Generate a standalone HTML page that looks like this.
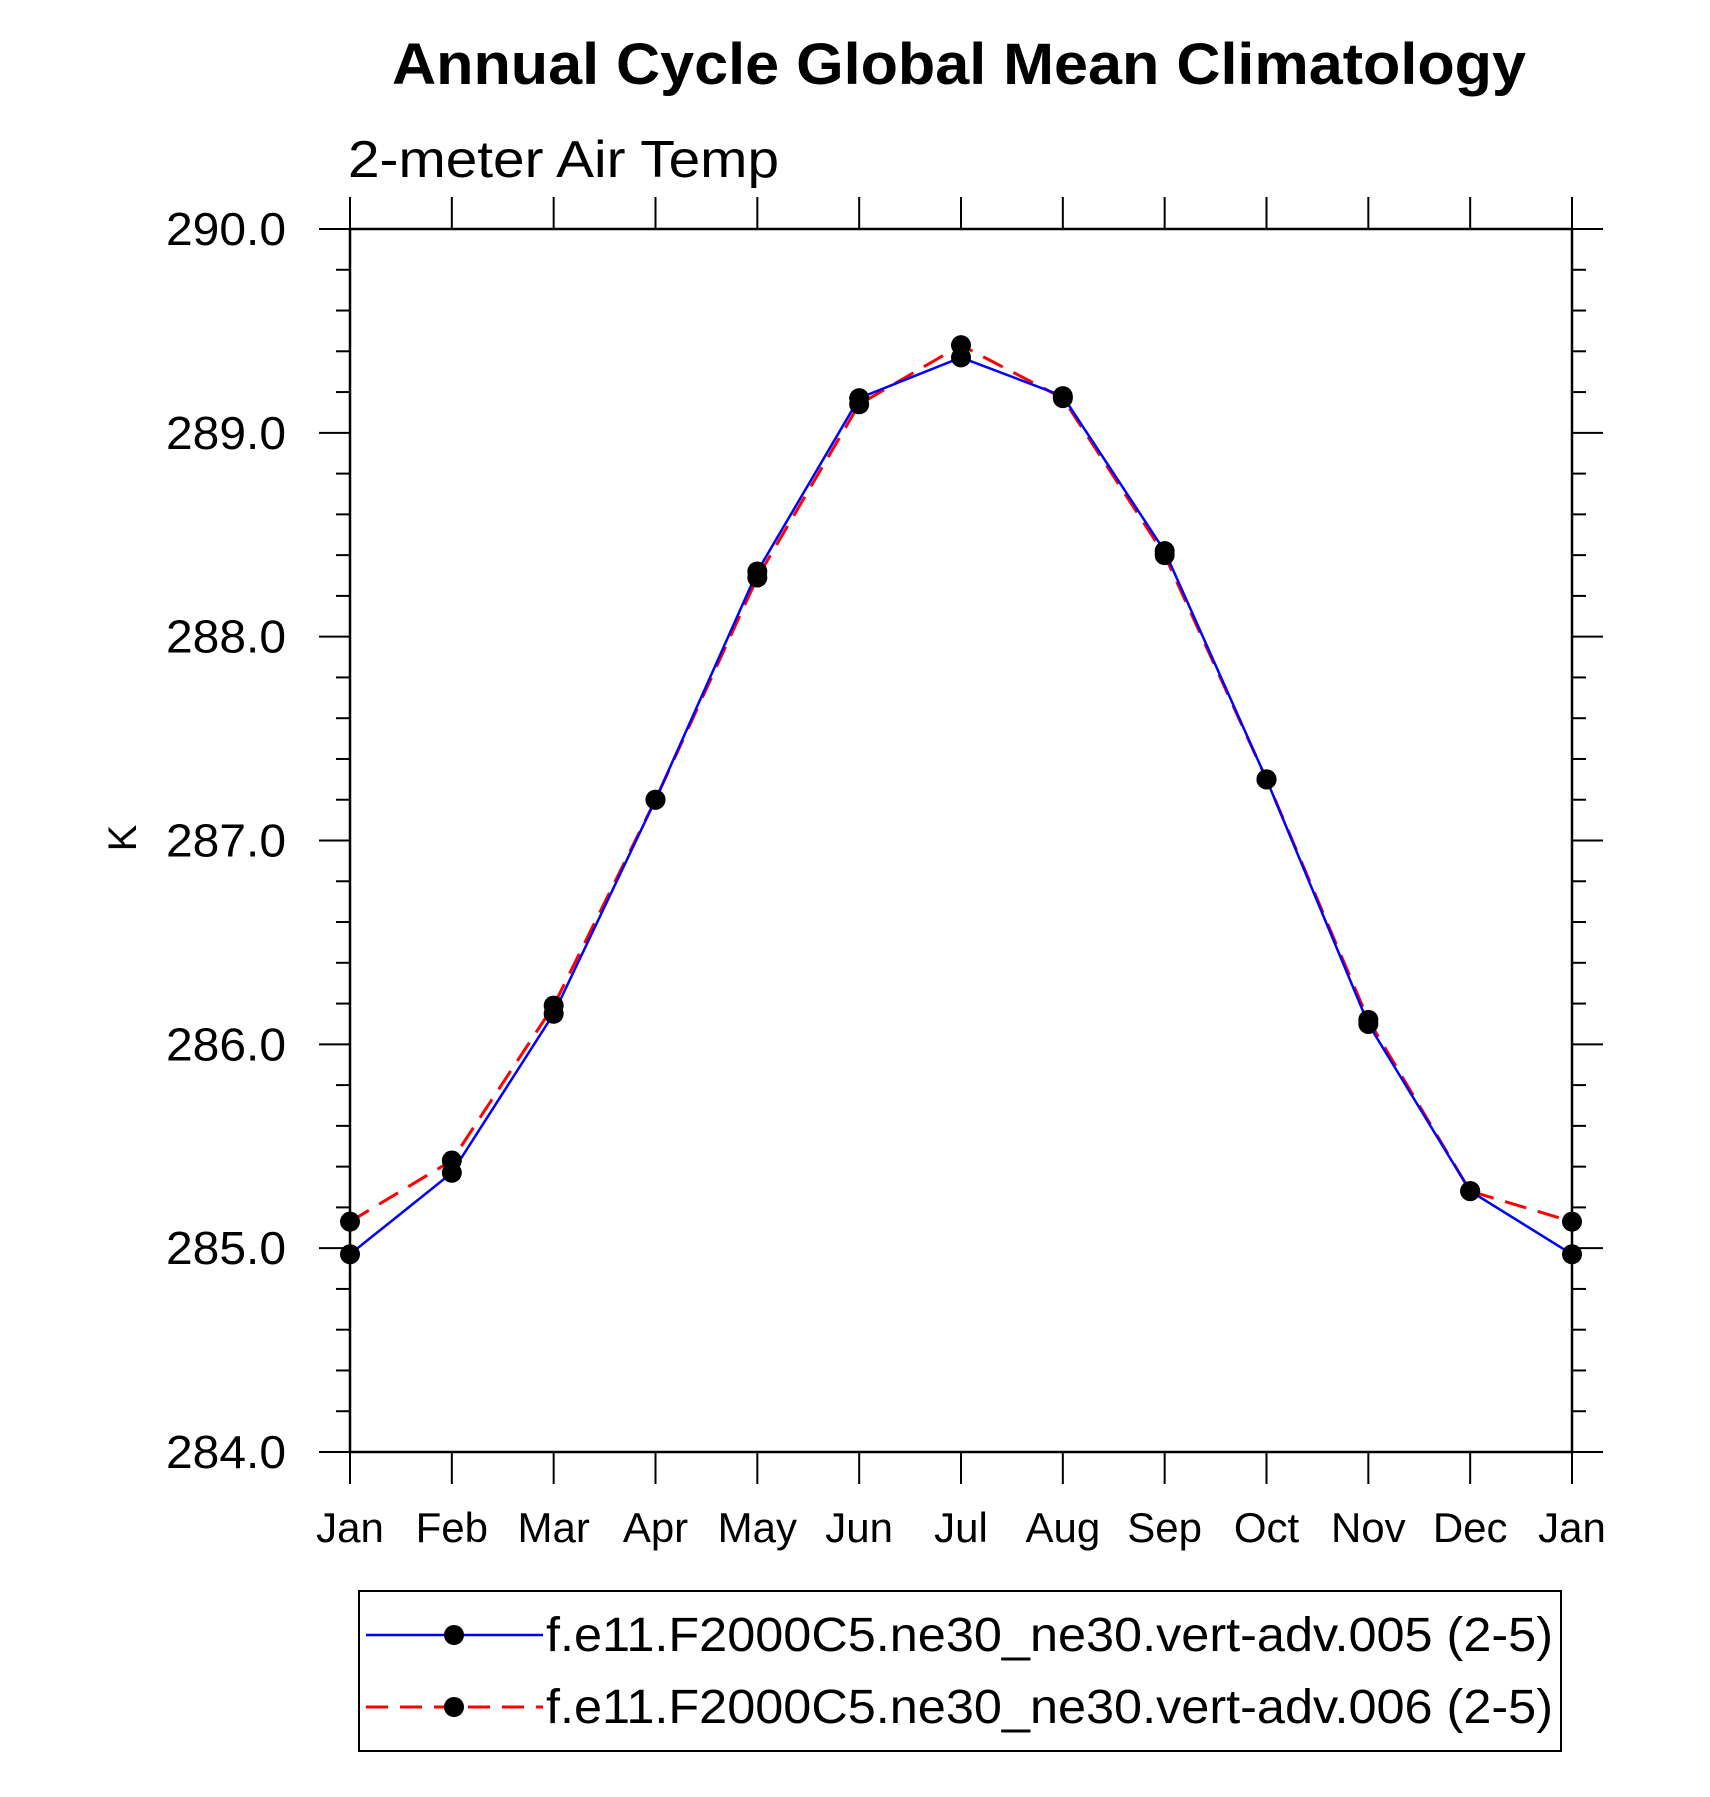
<!DOCTYPE html>
<html><head><meta charset="utf-8"><style>
html,body{margin:0;padding:0;background:#fff}
svg{display:block;font-family:"Liberation Sans",Arial,sans-serif}
</style></head><body>
<svg id="chart" width="1710" height="1797" viewBox="0 0 1710 1797" xmlns="http://www.w3.org/2000/svg">
<text x="959" y="84" text-anchor="middle" font-size="58" font-weight="bold" textLength="1134" lengthAdjust="spacingAndGlyphs">Annual Cycle Global Mean Climatology</text>
<text x="348" y="177" font-size="52" textLength="431" lengthAdjust="spacingAndGlyphs">2-meter Air Temp</text>
<text transform="translate(136,838) rotate(-90)" text-anchor="middle" font-size="40">K</text>
<g id="axes"></g>
<g id="series"></g>
<g>
<rect x="359" y="1591" width="1202" height="160" fill="none" stroke="#000" stroke-width="2"/>
<g>
<line x1="366" y1="1635" x2="543" y2="1635" stroke="#0000ff" stroke-width="2.5"/>
<circle cx="454" cy="1635" r="10" fill="#000"/>
<text x="546" y="1651" font-size="48" textLength="1007" lengthAdjust="spacingAndGlyphs">f.e11.F2000C5.ne30_ne30.vert-adv.005 (2-5)</text>
</g>
<g>
<line x1="366" y1="1707" x2="543" y2="1707" stroke="#ff0000" stroke-width="3" stroke-dasharray="22,12"/>
<circle cx="454" cy="1707" r="10" fill="#000"/>
<text x="546" y="1723" font-size="48" textLength="1007" lengthAdjust="spacingAndGlyphs">f.e11.F2000C5.ne30_ne30.vert-adv.006 (2-5)</text>
</g>
</g>
</svg>
<script>
const months = ["Jan","Feb","Mar","Apr","May","Jun","Jul","Aug","Sep","Oct","Nov","Dec","Jan"];
const series005 = [284.97,285.37,286.15,287.20,288.32,289.17,289.37,289.18,288.42,287.30,286.10,285.28,284.97];
const series006 = [285.13,285.43,286.19,287.20,288.29,289.14,289.43,289.17,288.40,287.30,286.12,285.28,285.13];
const yTickValues = [284,285,286,287,288,289,290];
const yTickLabels = ["284.0","285.0","286.0","287.0","288.0","289.0","290.0"];

const NS="http://www.w3.org/2000/svg";
const L=350,R=1572,T=229,B=1452,YMIN=284,YMAX=290;
function xs(i){return L+(R-L)*i/(months.length-1);}
function ys(v){return B-(v-YMIN)/(YMAX-YMIN)*(B-T);}
function mk(tag,attrs,parent){const e=document.createElementNS(NS,tag);for(const k in attrs)e.setAttribute(k,attrs[k]);parent.appendChild(e);return e;}
const axes=document.getElementById('axes');
const frame=mk('rect',{x:L,y:T,width:R-L,height:B-T,fill:'none',stroke:'#000','stroke-width':2.5},axes);


for(let v=YMIN;v<=YMAX+1e-9;v+=0.2){
  const y=ys(v);const major=Math.abs(v-Math.round(v))<1e-6;const len=major?31:14;
  const t1=mk('line',{x1:L-len,y1:y,x2:L,y2:y,stroke:'#000','stroke-width':2},axes);
  
  
  const t2=mk('line',{x1:R,y1:y,x2:R+len,y2:y,stroke:'#000','stroke-width':2},axes);
  
  
}
yTickValues.forEach((v,i)=>{
  const t=mk('text',{x:286,y:ys(v)+16,'text-anchor':'end','font-size':46,textLength:120,lengthAdjust:'spacingAndGlyphs'},axes);
  t.textContent=yTickLabels[i];
  
  
});
months.forEach((m,i)=>{
  const x=xs(i);
  const a=mk('line',{x1:x,y1:B,x2:x,y2:B+32,stroke:'#000','stroke-width':2},axes);
  
  
  const b=mk('line',{x1:x,y1:T-32,x2:x,y2:T,stroke:'#000','stroke-width':2},axes);
  
  
  const t=mk('text',{x:x,y:1542,'text-anchor':'middle','font-size':42},axes);
  t.textContent=m;
  
  
});
const sg=document.getElementById('series');
function drawSeries(vals,color,dash,name){
  const pts=vals.map((v,i)=>xs(i)+','+ys(v)).join(' ');
  const attrs={points:pts,fill:'none',stroke:color,'stroke-width':dash?3:2.5};
  if(dash)attrs['stroke-dasharray']=dash;
  const pl=mk('polyline',attrs,sg);
  
  
}
function drawMarkers(vals,name){
  vals.forEach((v,i)=>{
    const c=mk('circle',{cx:xs(i),cy:ys(v),r:10,fill:'#000'},sg);
    
    
  });
}
drawSeries(series006,'#ff0000','22,12','series-006');
drawSeries(series005,'#0000ff',null,'series-005');
drawMarkers(series005,'series-005');
drawMarkers(series006,'series-006');
</script>
</body></html>
